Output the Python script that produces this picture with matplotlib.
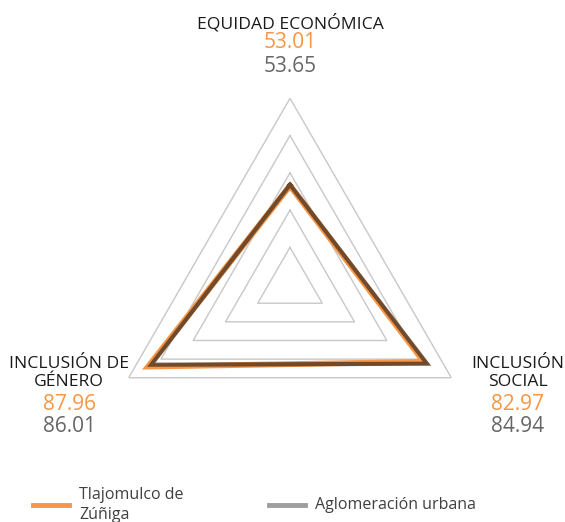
import matplotlib
matplotlib.use("Agg")
import matplotlib.pyplot as plt
import numpy as np

plt.rcParams['font.family'] = ['Open Sans', 'DejaVu Sans']

# data
categories = ["EQUIDAD ECONÓMICA", "INCLUSIÓN\nSOCIAL", "INCLUSIÓN DE\nGÉNERO"]
tlajomulco = [53.01, 82.97, 87.96]
aglomeracion = [53.65, 84.94, 86.01]
series_names = ["Tlajomulco de\nZúñiga", "Aglomeración urbana"]
grid_levels = [20, 40, 60, 80, 100]

ORANGE = "#F79646"
GRAY = "#9E9E9E"
W, H = 565, 522

fig = plt.figure(figsize=(W / 100, H / 100), dpi=100)
cx, cy, R = 290, 284.6, 186.3
ax = fig.add_axes([(cx - R) / W, (H - cy - R) / H, 2 * R / W, 2 * R / H], projection="polar")
ax.set_theta_offset(np.pi / 2)
ax.set_theta_direction(-1)
ax.set_ylim(0, 100)
ax.axis("off")

theta = np.deg2rad([0, 120, 240, 360])
for lvl in grid_levels:
    ax.plot(theta, [lvl] * 4, color="#C8C8C8", lw=1.0, zorder=1)

def closed(v):
    return list(v) + [v[0]]

ax.plot(theta, closed(tlajomulco), color=ORANGE, lw=4.2, zorder=3, solid_joinstyle="miter")
ax.plot(theta, closed(aglomeracion), color="#3a2a1e", alpha=0.7, lw=3.0, zorder=4, solid_joinstyle="miter")

def px(x, y):
    return x / W, 1 - y / H

# axis labels with values
label_pos = [(290, 23, 43, 66), (518, 373, 404, 426), (69, 373, 404, 426)]
for cat, v1, v2, (x, yl, y1, y2) in zip(categories, tlajomulco, aglomeracion, label_pos):
    fig.text(*px(x, yl), cat, ha="center", va="center", fontsize=12.6, color="#1a1a1a", linespacing=1.1)
    fig.text(*px(x, y1), f"{v1:.2f}", ha="center", va="center", fontsize=15, color=ORANGE)
    fig.text(*px(x, y2), f"{v2:.2f}", ha="center", va="center", fontsize=15, color="#666666")

# legend
fig.add_artist(plt.Line2D([33 / W, 69 / W], [1 - 505 / H] * 2, color=ORANGE, lw=3.5))
fig.text(*px(79, 505), series_names[0], ha="left", va="center", fontsize=11.5, color="#404040", linespacing=1.35)
fig.add_artist(plt.Line2D([269 / W, 305 / W], [1 - 505 / H] * 2, color=GRAY, lw=3.5))
fig.text(*px(315, 505), series_names[1], ha="left", va="center", fontsize=11.5, color="#404040")

fig.savefig("out.png", dpi=100)
